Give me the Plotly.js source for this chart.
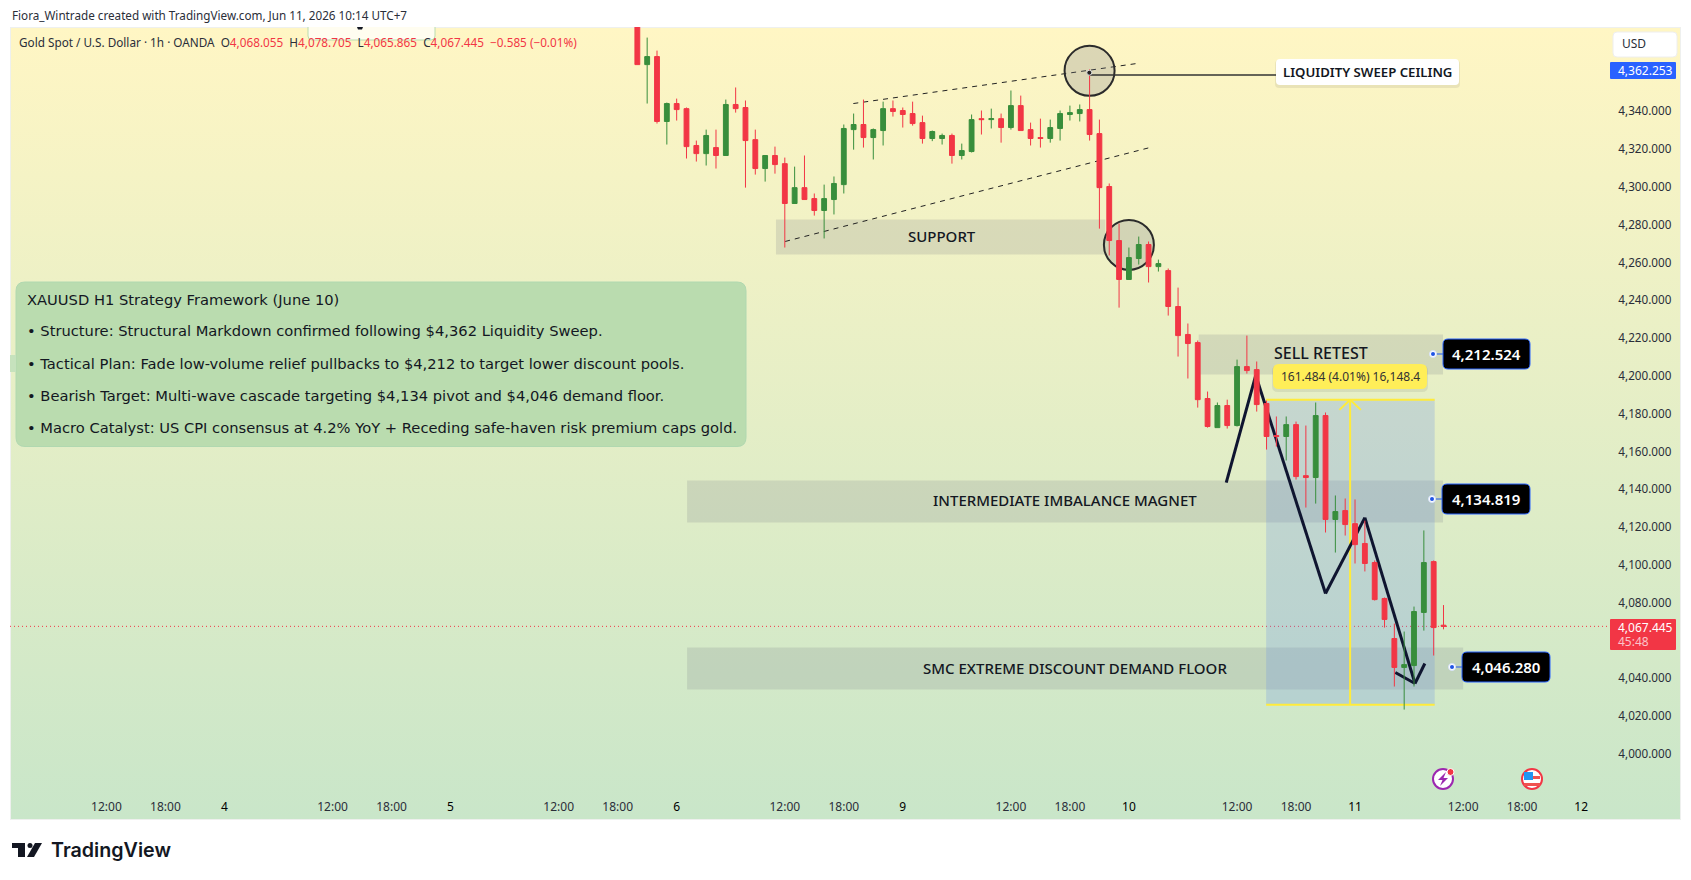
<!DOCTYPE html>
<html>
<head>
<meta charset="utf-8">
<script src="https://cdn.plot.ly/plotly-3.0.1.min.js"></script>
<style>
  html, body { margin: 0; padding: 0; background: #fff; width: 1691px; height: 880px; overflow: hidden; }
  #chartBg { position: absolute; left: 10px; top: 27px; width: 1671px; height: 793px; box-sizing: border-box;
    border: 1px solid #eef0ee; background: linear-gradient(180deg, #fff6c4 0%, #c9e6c9 100%); }
  #myChart { position: absolute; left: 0; top: 0; width: 1691px; height: 880px; }
</style>
</head>
<body>
<div id="chartBg"></div>
<div id="myChart"></div>
<script>
// XAUUSD 1h candles, one entry per hour
const candleOpen = [4395, 4364.7, 4368.95, 4334.6, 4344.1, 4341.4, 4321.9, 4317.6, 4320.8, 4316.6, 4343.6, 4342.0, 4325.0, 4309.7, 4316.6, 4312.3, 4291.2, 4299.6, 4293.8, 4287.5, 4293.3, 4301.2, 4330.3, 4333.0, 4326.1, 4329.8, 4341.4, 4340.4, 4338.8, 4334.0, 4325.6, 4325.6, 4327.2, 4316.6, 4318.7, 4336.1, 4335.6, 4336.1, 4331.4, 4343.0, 4330.3, 4326.1, 4325.6, 4330.9, 4338.3, 4338.8, 4340.9, 4328.2, 4300.2, 4271.6, 4251.0, 4262.1, 4269.5, 4257.8, 4255.7, 4236.7, 4221.9, 4217.6, 4188.0, 4172.6, 4184.3, 4173.7, 4204.9, 4203.3, 4185.4, 4168.4, 4167.9, 4174.2, 4147.2, 4146.2, 4179.0, 4124.0, 4128.7, 4121.8, 4111.3, 4101.2, 4082.2, 4061.0, 4045.7, 4046.7, 4074.8, 4101.7, 4068.055];
const candleHigh = [4398, 4379.0, 4372.1, 4344.6, 4346.7, 4342.0, 4324.5, 4330.3, 4330.3, 4346.2, 4352.6, 4345.7, 4330.3, 4316.6, 4321.3, 4315.5, 4310.7, 4316.6, 4296.5, 4301.2, 4305.5, 4333.0, 4338.8, 4346.2, 4330.9, 4345.1, 4345.7, 4342.0, 4345.1, 4337.7, 4329.8, 4328.2, 4328.2, 4322.9, 4338.3, 4340.4, 4341.4, 4338.8, 4351.0, 4348.3, 4334.0, 4336.1, 4335.6, 4340.4, 4343.0, 4343.6, 4362.25, 4335.6, 4301.8, 4280.6, 4267.9, 4273.7, 4271.1, 4261.5, 4256.8, 4246.7, 4227.7, 4218.7, 4191.7, 4185.9, 4187.4, 4208.6, 4221.3, 4207.6, 4186.9, 4178.5, 4178.5, 4175.8, 4173.7, 4185.9, 4180.6, 4136.7, 4135.1, 4134.6, 4123.4, 4102.3, 4082.7, 4068.9, 4064.7, 4077.9, 4118.2, 4102.3, 4078.705];
const candleLow = [4364.7, 4344.1, 4333.5, 4322.4, 4335.1, 4315.0, 4313.4, 4311.3, 4309.7, 4316.6, 4339.3, 4299.6, 4306.5, 4302.8, 4307.0, 4267.9, 4291.2, 4293.3, 4284.8, 4272.7, 4285.4, 4296.5, 4319.7, 4320.8, 4314.5, 4321.9, 4337.2, 4331.4, 4332.4, 4322.9, 4324.2, 4322.4, 4312.3, 4314.5, 4318.2, 4327.7, 4330.9, 4323.4, 4330.3, 4329.8, 4321.9, 4320.8, 4323.4, 4324.5, 4335.1, 4334.6, 4324.5, 4277.9, 4263.7, 4236.1, 4251.0, 4258.9, 4249.4, 4255.2, 4231.9, 4210.2, 4198.6, 4183.2, 4172.6, 4172.6, 4172.1, 4173.2, 4201.2, 4181.1, 4161.0, 4162.6, 4155.2, 4145.1, 4130.3, 4132.4, 4117.1, 4106.5, 4115.5, 4100.7, 4096.5, 4081.1, 4066.8, 4035.6, 4023.4, 4035.6, 4065.2, 4052.0, 4065.865];
const candleClose = [4364.7, 4368.95, 4334.6, 4344.1, 4340.9, 4321.3, 4317.6, 4327.2, 4316.6, 4343.6, 4341.4, 4324.5, 4309.7, 4316.6, 4311.8, 4291.2, 4299.6, 4293.3, 4287.5, 4293.8, 4301.8, 4330.9, 4333.0, 4326.1, 4330.3, 4341.4, 4339.9, 4338.3, 4333.5, 4325.6, 4329.3, 4327.2, 4316.6, 4319.2, 4335.6, 4335.6, 4336.1, 4331.4, 4343.0, 4329.8, 4325.6, 4325.6, 4331.4, 4338.8, 4339.3, 4340.9, 4327.7, 4299.6, 4271.6, 4251.0, 4262.6, 4269.5, 4257.8, 4259.4, 4236.7, 4221.3, 4217.1, 4187.4, 4173.2, 4184.3, 4173.7, 4204.9, 4202.8, 4184.8, 4167.9, 4167.9, 4174.2, 4146.7, 4146.2, 4179.0, 4124.0, 4128.2, 4121.3, 4110.7, 4100.7, 4081.6, 4071.1, 4045.7, 4047.2, 4075.3, 4101.2, 4066.8, 4067.445];

// Time axis, positions are counted in candles (the market closes one hour a day)
const timeTickIndex = [-54, -48, -42, -31, -25, -19, -8, -2, 4, 15, 21, 27, 38, 44, 50, 61, 67, 73, 84, 90, 96];
const timeTickText = ['12:00', '18:00', '4', '12:00', '18:00', '5', '12:00', '18:00', '6', '12:00', '18:00', '9', '12:00', '18:00', '10', '12:00', '18:00', '11', '12:00', '18:00', '12'];
// 4,060 and 4,360 sit under the price tags in the picture
const priceTicks = [4000, 4020, 4040, 4080, 4100, 4120, 4140, 4160, 4180, 4200, 4220, 4240, 4260, 4280, 4300, 4320, 4340];

// Price zones: [first candle, last candle, low, high]
const supportZone = [14.1, 47.6, 4264.2, 4282.7];
const sellRetestZone = [57.1, 81.95, 4200.7, 4221.9];
const imbalanceZone = [5.06, 81.95, 4122.4, 4144.6];
const demandZone = [5.06, 84.0, 4034.0, 4056.2];
const rangeBox = [63.96, 81.1, 4025.9, 4187.4];
const rangeArrowIndex = 72.5;

// Channel and projected path
const channelTopIndex = [21.97, 50.97];
const channelTopPrice = [4344.1, 4365.4];
const channelBottomIndex = [15.03, 51.98];
const channelBottomPrice = [4271.1, 4320.6];
const pathIndex = [59.9, 62.9, 70.0, 74.0, 79.1];
const pathPrice = [4143.5, 4200.3, 4084.8, 4125.0, 4037.2];
const arrowIndex = [77.1, 79.1, 80.1];
const arrowPrice = [4043.0, 4037.2, 4047.8];

const lastPrice = 4067.445;
const sweepHighPrice = 4362.253;

const headerText = 'Fiora_Wintrade created with TradingView.com, Jun 11, 2026 10:14 UTC+7';
const panelLines = [
    'XAUUSD H1 Strategy Framework (June 10)',
    '• Structure: Structural Markdown confirmed following $4,362 Liquidity Sweep.',
    '• Tactical Plan: Fade low-volume relief pullbacks to $4,212 to target lower discount pools.',
    '• Bearish Target: Multi-wave cascade targeting $4,134 pivot and $4,046 demand floor.',
    '• Macro Catalyst: US CPI consensus at 4.2% YoY + Receding safe-haven risk premium caps gold.'
];

const UP = '#388e3c', DOWN = '#f23645', YELLOW = '#ffeb3b', INK = '#131722', ZONE = 'rgba(120,123,134,0.2)';
const FONT = '"Noto Sans", sans-serif';
const PANEL_FONT = '"DejaVu Sans", sans-serif';

// Plot area in page pixels
const plotL = 10, plotR = 1613, plotT = 27, plotB = 795;
const pageW = 1691, pageH = 880;
const paperX = px => (px - plotL) / (plotR - plotL);
const paperY = py => 1 - (py - plotT) / (plotB - plotT);

function roundedPath(x0, y0, x1, y1, r) {
    const X = paperX, Y = paperY;
    return `M${X(x0 + r)},${Y(y0)} L${X(x1 - r)},${Y(y0)} Q${X(x1)},${Y(y0)} ${X(x1)},${Y(y0 + r)} ` +
        `L${X(x1)},${Y(y1 - r)} Q${X(x1)},${Y(y1)} ${X(x1 - r)},${Y(y1)} L${X(x0 + r)},${Y(y1)} ` +
        `Q${X(x0)},${Y(y1)} ${X(x0)},${Y(y1 - r)} L${X(x0)},${Y(y0 + r)} Q${X(x0)},${Y(y0)} ${X(x0 + r)},${Y(y0)} Z`;
}
function pagePoly(points) {
    return 'M' + points.map(p => `${paperX(p[0])},${paperY(p[1])}`).join(' L') + ' Z';
}
const pageRound = (x0, y0, x1, y1, r, fill, lineColor, lineWidth) => ({
    type: 'path', xref: 'paper', yref: 'paper', layer: 'above', path: roundedPath(x0, y0, x1, y1, r),
    fillcolor: fill, line: { color: lineColor || fill, width: lineWidth === undefined ? 0 : lineWidth }
});
const pageCircle = (cx, cy, r, fill, lineColor, lineWidth) => ({
    type: 'circle', xref: 'paper', yref: 'paper', layer: 'above',
    x0: paperX(cx - r), x1: paperX(cx + r), y0: paperY(cy + r), y1: paperY(cy - r),
    fillcolor: fill, line: { color: lineColor || fill, width: lineWidth || 0 }
});
const pageShape = (points, fill) => ({
    type: 'path', xref: 'paper', yref: 'paper', layer: 'above', path: pagePoly(points),
    fillcolor: fill, line: { width: 0 }
});
const zoneRect = (z, fill) => ({
    type: 'rect', xref: 'x', yref: 'y', layer: 'below', x0: z[0], x1: z[1], y0: z[2], y1: z[3],
    fillcolor: fill, line: { width: 0 }
});
const segment = (x0, y0, x1, y1, color, width, dash) => ({
    type: 'line', xref: 'x', yref: 'y', layer: 'below', x0, y0, x1, y1,
    line: { color, width, dash: dash || 'solid' }
});
function polyline(xs, ys, color, width) {
    const out = [];
    for (let i = 0; i < xs.length - 1; i++) out.push(segment(xs[i], ys[i], xs[i + 1], ys[i + 1], color, width));
    return out;
}
const pixelCircle = (index, price, r) => ({
    type: 'circle', xref: 'x', yref: 'y', layer: 'below', xsizemode: 'pixel', ysizemode: 'pixel',
    xanchor: index, yanchor: price, x0: -r, x1: r, y0: -r, y1: r,
    fillcolor: 'rgba(120,123,134,0.25)', line: { color: '#2b2b2b', width: 2 }
});
const pageText = (text, x, y, size, color, anchor, extra) => Object.assign({
    xref: 'paper', yref: 'paper', x: paperX(x), y: paperY(y), text, showarrow: false,
    xanchor: anchor || 'left', yanchor: 'middle', align: anchor === 'center' ? 'center' : 'left',
    font: { family: FONT, size, color }
}, extra || {});
const zoneLabel = (text, x, y) => pageText(text, x, y, 15, INK, 'center', { font: { family: FONT, size: 15, color: INK, weight: 500 } });

const shapes = [
    zoneRect(supportZone, ZONE), zoneRect(sellRetestZone, ZONE),
    zoneRect(imbalanceZone, ZONE), zoneRect(demandZone, ZONE),
    zoneRect(rangeBox, 'rgba(104,144,232,0.25)'),
    segment(rangeBox[0], rangeBox[3], rangeBox[1], rangeBox[3], YELLOW, 2),
    segment(rangeBox[0], rangeBox[2], rangeBox[1], rangeBox[2], YELLOW, 2),
    segment(rangeArrowIndex, rangeBox[2], rangeArrowIndex, rangeBox[3], YELLOW, 2),
    segment(rangeArrowIndex - 1.09, rangeBox[3] - 5.4, rangeArrowIndex, rangeBox[3], YELLOW, 2),
    segment(rangeArrowIndex + 1.09, rangeBox[3] - 5.4, rangeArrowIndex, rangeBox[3], YELLOW, 2),
    segment(channelTopIndex[0], channelTopPrice[0], channelTopIndex[1], channelTopPrice[1], '#222', 1, '5px,5px'),
    segment(channelBottomIndex[0], channelBottomPrice[0], channelBottomIndex[1], channelBottomPrice[1], '#222', 1, '5px,5px'),
    pixelCircle(46, 4361.4, 25), pixelCircle(50, 4269.3, 25),
    segment(46, 4359.2, 66, 4359.2, '#333', 1.5),
    ...polyline(pathIndex, pathPrice, '#0f1530', 3),
    ...polyline(arrowIndex, arrowPrice, '#0f1530', 3),
    { type: 'line', xref: 'paper', yref: 'y', layer: 'below', x0: 0, x1: paperX(1610), y0: lastPrice, y1: lastPrice,
      line: { color: DOWN, width: 1, dash: '1px,3px' } }
];

const annotations = [
    pageText(headerText, 9.5, 15, 11.7, '#2a2e39'),
    zoneLabel('SUPPORT', 941.5, 236),
    pageText('SELL RETEST', 1320.5, 353, 16, INK, 'center', { font: { family: FONT, size: 16, color: INK, weight: 500 } }),
    zoneLabel('INTERMEDIATE IMBALANCE MAGNET', 1065, 499.5),
    zoneLabel('SMC EXTREME DISCOUNT DEMAND FLOOR', 1074.5, 667.5),
    pageText('LIQUIDITY SWEEP CEILING', 1367.5, 72, 13.2, INK, 'center', { font: { family: FONT, size: 13.2, color: INK, weight: 600 } }),
    pageText('161.484 (4.01%) 16,148.4', 1350, 376.5, 12, '#333', 'center'),
    pageText('USD', 1620, 44, 12, '#2a2e39'),
    pageText(sweepHighPrice.toLocaleString('en-US', { minimumFractionDigits: 3 }), 1616, 70.5, 12, '#fff'),
    pageText(lastPrice.toLocaleString('en-US', { minimumFractionDigits: 3 }), 1616, 627, 12, '#fff'),
    pageText('45:48', 1616, 641, 12, '#fbc4ca'),
    pageText('TradingView', 49, 850, 19.7, '#131722', 'left', { font: { family: 'Inter, sans-serif', size: 19.7, color: '#131722', weight: 600 } })
];

// Legend row
const red = s => `<span style="color:${DOWN}">${s}</span>`;
annotations.push(pageText(
    `Gold Spot / U.S. Dollar · 1h · OANDA  O${red('4,068.055')}  H${red('4,078.705')}  L${red('4,065.865')}  C${red('4,067.445')}  ${red('−0.585 (−0.01%)')}`,
    17, 42, 11.75, '#2a2e39'));

// Strategy note panel
const panelY = [299, 331, 363, 395, 427];
panelLines.forEach((line, i) => annotations.push(pageText(line, 24.5, panelY[i], 14.7, INK, 'left', { font: { family: PANEL_FONT, size: 14.7, color: INK } })));

// Small helpers for the page furniture, all above the traces
function priceTag(text, x0, x1, yc) {
    shapes.push({ type: 'line', xref: 'paper', yref: 'paper', layer: 'above', x0: paperX(x0 - 10), x1: paperX(x0), y0: paperY(yc), y1: paperY(yc),
        line: { color: '#5b84dd', width: 1.5 } });
    shapes.push(pageRound(x0, yc - 15, x1, yc + 15, 5, '#000', '#2962ff', 1));
    shapes.push(pageCircle(x0 - 10, yc, 3.5, '#fff', '#d7e2fb', 1));
    shapes.push(pageCircle(x0 - 10, yc, 2, '#1e53e5'));
    annotations.push(pageText(text, (x0 + x1) / 2, yc, 15, '#fff', 'center', { font: { family: FONT, size: 15, color: '#fff', weight: 600 } }));
}
function shadowedBox(x0, y0, x1, y1, r, fill) {
    shapes.push(pageRound(x0 - 1, y0 + 1, x1 + 1, y1 + 3, r, 'rgba(0,0,0,0.07)'));
    shapes.push(pageRound(x0, y0, x1, y1, r, fill));
}
shapes.push(pageRound(16, 282, 746, 446.5, 9, '#badcaf', '#b0d8b0', 1));
shapes.push({ type: 'rect', xref: 'paper', yref: 'paper', layer: 'above', x0: paperX(10), x1: paperX(16), y0: paperY(372), y1: paperY(355), fillcolor: '#c6e2bd', line: { width: 0 } });
shapes.push(pageRound(308, 20, 435, 40, 4, '#fffdf0', '#b9dcb0', 1));
shapes.push({ type: 'rect', xref: 'paper', yref: 'paper', layer: 'above', x0: paperX(300), x1: paperX(445), y0: paperY(27), y1: 1.05, fillcolor: '#ffffff', line: { width: 0 } });
shapes.push(pageShape([[357, 27], [363, 27], [362, 29.5], [358, 29.5]], '#131722'));
shadowedBox(1276, 59, 1459, 85, 4, '#fff');
shadowedBox(1273, 364, 1427, 389, 6, '#ffee58');
shapes.push(pageRound(1613, 32, 1677, 57, 4, '#fff', '#eeeeee', 1));
shapes.push(pageRound(1610, 62, 1676, 79, 1, '#2962ff'));
shapes.push(pageRound(1610, 619, 1676, 650, 1, DOWN));
shapes.push(pageCircle(1089.3, 72.7, 2.5, '#222', '#ddd', 1));
priceTag('4,212.524', 1443, 1530, 354);
priceTag('4,134.819', 1442, 1530, 499);
priceTag('4,046.280', 1462, 1550, 667);

// Event markers
shapes.push(pageCircle(1443, 779, 10, '#fff', '#9c27b0', 2));
shapes.push(pageShape([[1446, 772], [1438, 780], [1442.5, 780], [1440, 786], [1448, 778], [1443.5, 778]], '#9c27b0'));
shapes.push(pageCircle(1450.5, 772, 3.5, DOWN, '#fff', 1));
shapes.push(pageCircle(1532, 779, 10, '#fff', '#f23645', 2));
shapes.push(pageShape([[1524, 776], [1540, 776], [1540, 779], [1524, 779]], '#ef5350'));
shapes.push(pageShape([[1524, 783], [1540, 783], [1540, 786], [1524, 786]], '#ef5350'));
shapes.push(pageShape([[1524, 772], [1533, 772], [1533, 780], [1524, 780]], '#2196f3'));

// TradingView logo
shapes.push(pageShape([[12, 843], [25, 843], [25, 857], [18, 857], [18, 848], [12, 848]], '#131722'));
shapes.push(pageCircle(30, 845.5, 2.5, '#131722'));
shapes.push(pageShape([[35, 843], [42, 843], [34, 857], [27, 857]], '#131722'));

const candles = {
    type: 'candlestick',
    x: candleOpen.map((_, i) => i),
    open: candleOpen, high: candleHigh, low: candleLow, close: candleClose,
    increasing: { line: { color: UP, width: 1 }, fillcolor: UP },
    decreasing: { line: { color: DOWN, width: 1 }, fillcolor: DOWN },
    whiskerwidth: 0, hoverinfo: 'skip', showlegend: false
};

const layout = {
    width: pageW, height: pageH,
    margin: { l: plotL, r: pageW - plotR, t: plotT, b: pageH - plotB, pad: 0 },
    paper_bgcolor: 'rgba(0,0,0,0)', plot_bgcolor: 'rgba(0,0,0,0)',
    boxgap: 0.3, showlegend: false,
    font: { family: FONT, size: 12, color: '#2a2e39' },
    xaxis: {
        range: [-63.81, 99.24], tickmode: 'array', tickvals: timeTickIndex,
        ticktext: timeTickText.map(t => t.includes(':') ? t : `<span style="color:#000">${t}</span>`),
        rangeslider: { visible: false }, showgrid: false, zeroline: false, showline: false,
        ticks: 'outside', ticklen: 1, tickcolor: 'rgba(0,0,0,0)', tickangle: 0,
        tickfont: { family: FONT, size: 12, color: '#2a2e39' }
    },
    yaxis: {
        range: [3978.2, 4384.6], side: 'right', tickmode: 'array', tickvals: priceTicks,
        tickformat: ',.3f', showgrid: false, zeroline: false, showline: false,
        ticks: 'outside', ticklen: 2, tickcolor: 'rgba(0,0,0,0)',
        tickfont: { family: FONT, size: 11.7, color: '#2a2e39' }
    },
    shapes, annotations
};

Plotly.newPlot('myChart', [candles], layout, { displayModeBar: false, staticPlot: true });
</script>
</body>
</html>
